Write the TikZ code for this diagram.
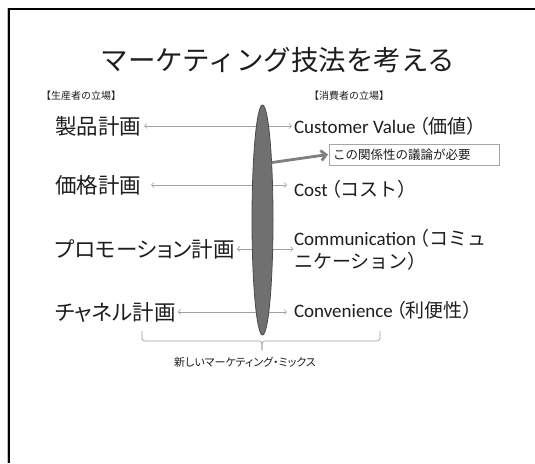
\documentclass[tikz,border=0pt]{standalone}
\usepackage{fontspec}
\setmainfont{Carlito}
\newfontfamily\jp{Noto Sans CJK JP}
\newfontfamily\jpp[RawFeature=+palt]{Noto Sans CJK JP}
\newcommand\jlparen{\hspace{3.5pt}{\jpp（}}
\usetikzlibrary{arrows.meta,shapes.geometric}
\definecolor{ink}{HTML}{1E1E1E}
\definecolor{arrowgray}{HTML}{A0A0A0}
\definecolor{ovalfill}{HTML}{707070}
\definecolor{ovaledge}{HTML}{4A4A4A}
\definecolor{boxedge}{HTML}{A6A6A6}
\definecolor{thickgray}{HTML}{7F7F7F}
\definecolor{bracegray}{HTML}{A0A0A0}
\begin{document}
\begin{tikzpicture}[x=1pt,y=-1pt,
  every node/.style={inner sep=0pt, outer sep=0pt, text=ink},
  titletxt/.style={font=\jp\fontsize{27.5}{32}\selectfont, text height=24.2pt, text depth=3.3pt},
  hdrtxt/.style={anchor=west, font=\jp\fontsize{10}{12}\selectfont, text height=8.8pt, text depth=1.2pt},
  plantxt/.style={anchor=west, font=\jpp\fontsize{21.5}{26}\selectfont, text height=18.9pt, text depth=2.6pt},
  custtxt/.style={anchor=west, font=\fontsize{19}{23}\selectfont, text height=16.7pt, text depth=2.3pt},
  custtwo/.style={anchor=west, align=left, font=\fontsize{19}{22.5}\selectfont},
  dblarrow/.style={draw=arrowgray, line width=0.6pt,
    arrows={Straight Barb[length=2.6pt,width=5pt]-Straight Barb[length=2.6pt,width=5pt]}},
  notebox/.style={draw=boxedge, line width=0.8pt, anchor=west, minimum width=170pt,
    minimum height=21pt, text width=162pt, inner xsep=4pt, align=left,
    font=\jp\fontsize{12.5}{15}\selectfont},
  thickarrow/.style={draw=thickgray, line width=2.8pt,
    arrows={-Straight Barb[length=5pt,width=10pt]}},
  bracepath/.style={draw=bracegray, line width=0.7pt, rounded corners=3pt},
  mixtxt/.style={font=\jpp\fontsize{11}{13}\selectfont},
  frameline/.style={draw=black, line width=2pt}
]
\useasboundingbox (0,0) rectangle (535,463);
\fill[white] (0,0) rectangle (535,463);
% slide frame
\draw[draw=black!25, line width=0.8pt] (7.2,463) -- (7.2,8);
\draw[frameline] (9,463) -- (9,9) -- (535,9);

% title and headers
\node[titletxt] (title) at (278,60) {マーケティング技法を考える};
\node[hdrtxt] (hdrl) at (41,96) {【生産者の立場】};
\node[hdrtxt] (hdrr) at (309,96) {【消費者の立場】};

% left column
\node[plantxt] (l1) at (55,126) {製品計画};
\node[plantxt] (l2) at (55,185) {価格計画};
\node[plantxt] (l3) at (55,249) {プロモーション計画};
\node[plantxt] (l4) at (55,312) {チャネル計画};

% right column
\node[custtxt] (r1) at (294,126) {Customer Value\jlparen{\jp 価値）}};
\node[custtxt] (r2) at (294,189) {Cost\jlparen{\jp コスト）}};
\node[custtwo] (r3) at (294,250) {Communication\jlparen{\jp コミュ}\\{\jp ニケーション）}};
\node[custtxt] (r4) at (294,310) {Convenience\jlparen{\jp 利便性）}};

% connecting double arrows (behind the oval)
\draw[dblarrow] ([xshift=3pt]l1.east) -- ([xshift=-2pt]l1.east -| r1.west);
\draw[dblarrow] ([xshift=10pt]l2.east) -- ([xshift=-7pt]l2.east -| r2.west);
\draw[dblarrow] ([xshift=2pt]l3.east) -- ([xshift=-0.5pt]l3.east -| r3.west);
\draw[dblarrow] ([xshift=2pt]l4.east) -- ([xshift=-7pt]l4.east -| r4.west);

% oval
\node[ellipse, draw=ovaledge, fill=ovalfill, line width=0.8pt,
  minimum width=21pt, minimum height=230pt] (oval) at (262.5,220) {};

% note box and thick arrow
\node[notebox] (note) at (329,154.5) {この関係性の議論が必要};
\draw[thickarrow] (oval.81) -- ([xshift=-1pt]note.west);

% brace and caption
\node[mixtxt] (mix) at (245,362) {新しいマーケティング・ミックス};
\coordinate (bl) at (142,331);
\coordinate (br) at (380,331);
\coordinate (bm) at (262,350);
\draw[bracepath] (bl) -- (142,341) -- (262,341) -- (bm);
\draw[bracepath] (bm) -- (262,341) -- (380,341) -- (br);
\end{tikzpicture}
\end{document}
